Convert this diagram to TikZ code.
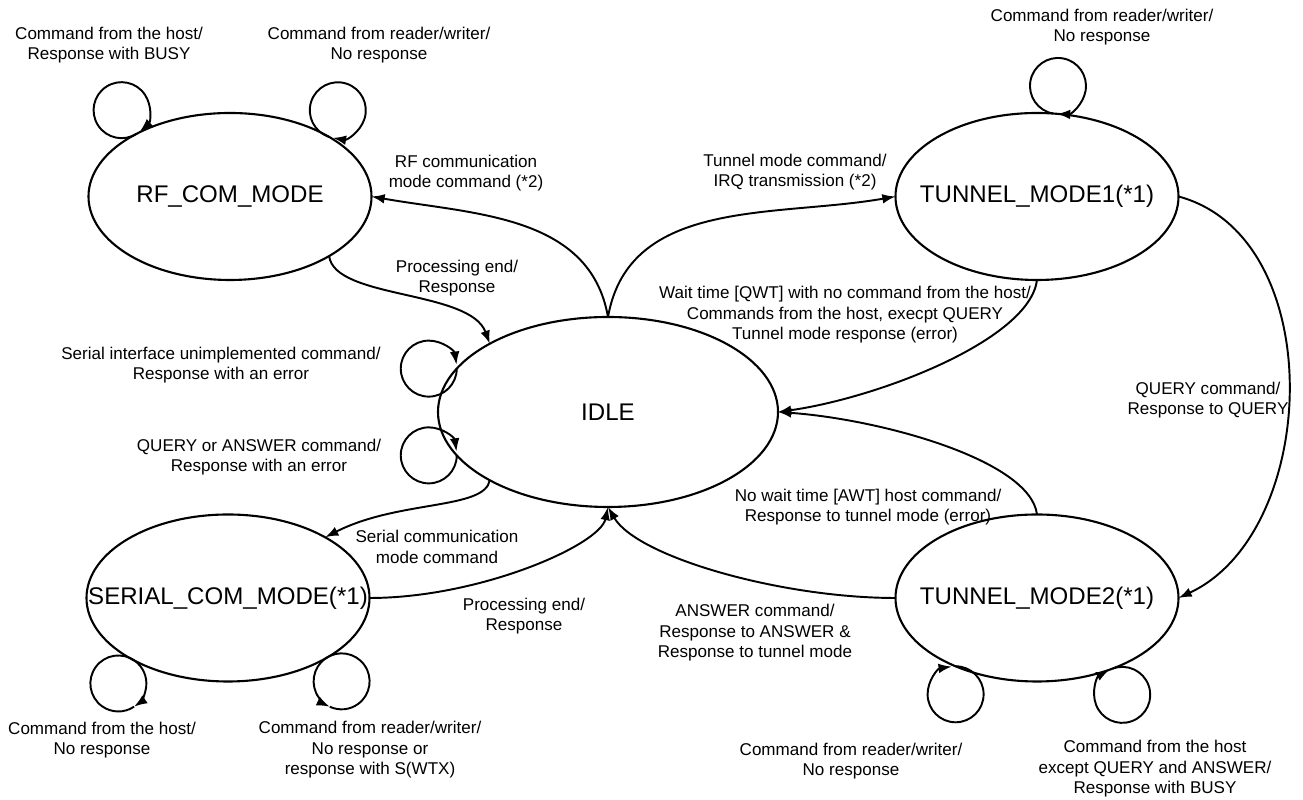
\documentclass[tikz,border=0pt]{standalone}
\usepackage{fontspec}
\setmainfont{Liberation Sans}
\usetikzlibrary{shapes.geometric,arrows.meta}

\begin{document}
\begin{tikzpicture}[
  state/.style={draw, ellipse, line width=1.2pt, inner sep=0pt, outer sep=0pt,
    minimum width=5.66cm, minimum height=3.34cm,
    font=\fontsize{13.7}{16}\selectfont},
  trans/.style={line width=1.1pt, -{Latex[length=7.5pt,width=5.5pt]}},
  loopline/.style={line width=1.1pt},
  lbl/.style={align=center, inner sep=0pt, font=\fontsize{9.7}{11.7}\selectfont}
]
  \useasboundingbox (0,0) rectangle (26.06,16);
  % states
  \node[state] (rf) at (4.6,12.07) {\makebox[0pt]{RF\_COM\_MODE}};
  \node[state, minimum width=6.8cm, minimum height=3.8cm] (idle) at (12.16,7.76) {\makebox[0pt]{IDLE}};
  \node[state] (t1) at (20.74,12.07) {\makebox[0pt]{TUNNEL\_MODE1(*1)}};
  \node[state] (t2) at (20.74,4.04) {\makebox[0pt]{TUNNEL\_MODE2(*1)}};
  \node[state] (serial) at (4.56,4.04) {\makebox[0pt]{SERIAL\_COM\_MODE(*1)}};
  % transitions
  \draw[trans] (idle.north) to[out=100, in=-10] (rf.east);
  \draw[trans] (rf.329) .. controls +(-83:0.87) and +(110:1.15) .. (idle.150);
  \draw[trans] (idle.north) to[out=80, in=190] (t1.west);
  \draw[trans] (t1.south) .. controls +(-97:1.2) and +(8:2.04) .. (idle.east);
  \draw[trans] (t2.north) .. controls +(97:1.1) and +(-4:2.04) .. (idle.east);
  \draw[trans] (t1.east) to[out=-15, in=25] (t2.east);
  \draw[trans] (idle.210) .. controls +(-100:0.6) and +(27:1.65) .. (serial.32);
  \draw[trans] (serial.east) .. controls +(0:2.2) and +(-102:0.78) .. (idle.south);
  \draw[trans] (t2.west) .. controls +(180:2.3) and +(-60:1.15) .. (idle.south);
  % self loops
  \draw[trans] (rf.146) arc[start angle=-57, delta angle=-352, radius=0.56];
  \draw[trans] (rf.31) arc[start angle=-108, delta angle=-352, radius=0.56];
  \draw[trans] (t1.79) arc[start angle=-100, delta angle=-352, radius=0.56];
  \draw[trans] (idle.164) arc[start angle=0, delta angle=-352, radius=0.56];
  \draw[trans] (idle.196) arc[start angle=0, delta angle=-352, radius=0.56];
  \draw[trans] (t2.220) arc[start angle=90, delta angle=-352, radius=0.56];
  \draw[trans] (t2.317) arc[start angle=110, delta angle=-352, radius=0.56];
  \draw[trans] (serial.214) arc[start angle=54, delta angle=-110, radius=0.56];
  \draw[loopline] (serial.214) arc[start angle=54, delta angle=250, radius=0.56];
  \draw[trans] (serial.328) arc[start angle=126, delta angle=119, radius=0.56];
  \draw[loopline] (serial.328) arc[start angle=126, delta angle=-241, radius=0.56];
  % labels
  \node[lbl] (rfhost) at (2.18,15.1) {Command from the host/\\Response with BUSY};
  \node[lbl] (rfrw) at (7.58,15.1) {Command from reader/writer/\\No response};
  \node[lbl] (torf) at (9.32,12.54) {RF communication\\mode command (*2)};
  \node[lbl] (rfend) at (9.14,10.44) {Processing end/\\Response};
  \node[lbl] (tot1) at (15.9,12.56) {Tunnel mode command/\\IRQ transmission (*2)};
  \node[lbl] (t1rw) at (22.04,15.46) {Command from reader/writer/\\No response};
  \node[lbl] (t1back) at (16.9,9.7) {Wait time [QWT] with no command from the host/\\Commands from the host, execpt QUERY\\Tunnel mode response (error)};
  \node[lbl] (query) at (24.16,8.0) {QUERY command/\\Response to QUERY};
  \node[lbl] (idleunimp) at (4.42,8.7) {Serial interface unimplemented command/\\Response with an error};
  \node[lbl] (idleqa) at (5.18,6.86) {QUERY or ANSWER command/\\Response with an error};
  \node[lbl] (toserial) at (8.74,5.06) {Serial communication\\mode command};
  \node[lbl] (serialend) at (10.48,3.68) {Processing end/\\Response};
  \node[lbl] (t2back) at (17.36,5.86) {No wait time [AWT] host command/\\Response to tunnel mode (error)};
  \node[lbl] (answer) at (15.1,3.34) {ANSWER command/\\Response to ANSWER \&\\Response to tunnel mode};
  \node[lbl] (serialhost) at (2.04,1.2) {Command from the host/\\No response};
  \node[lbl] (serialrw) at (7.4,1.0) {Command from reader/writer/\\No response or\\response with S(WTX)};
  \node[lbl] (t2rw) at (17.02,0.78) {Command from reader/writer/\\No response};
  \node[lbl] (t2host) at (23.1,0.62) {Command from the host\\except QUERY and ANSWER/\\Response with BUSY};
\end{tikzpicture}
\end{document}
